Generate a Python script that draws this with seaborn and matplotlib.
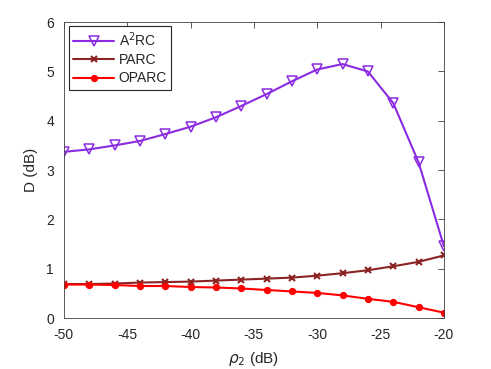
import numpy as np
import pandas as pd
import matplotlib
matplotlib.use("Agg")
import matplotlib.pyplot as plt
import seaborn as sns

rho2 = [-50, -48, -46, -44, -42, -40, -38, -36, -34, -32, -30, -28, -26, -24, -22, -20]
a2rc = [3.37, 3.42, 3.50, 3.59, 3.73, 3.88, 4.07, 4.30, 4.54, 4.80, 5.04, 5.15, 5.00, 4.36, 3.16, 1.46]
parc = [0.69, 0.69, 0.70, 0.72, 0.73, 0.74, 0.76, 0.78, 0.80, 0.82, 0.86, 0.91, 0.97, 1.05, 1.14, 1.27]
oparc = [0.68, 0.68, 0.67, 0.65, 0.65, 0.63, 0.62, 0.60, 0.57, 0.54, 0.51, 0.46, 0.39, 0.33, 0.22, 0.11]
series_names = ["A$^2$RC", "PARC", "OPARC"]

df = pd.DataFrame({
    "rho2": rho2 * 3,
    "D": a2rc + parc + oparc,
    "method": [series_names[0]] * len(rho2) + [series_names[1]] * len(rho2) + [series_names[2]] * len(rho2),
})

sns.set_style("white")
plt.rcParams['font.family'] = ['Liberation Sans', 'DejaVu Sans']
plt.rcParams['mathtext.fontset'] = 'dejavusans'
plt.rcParams['axes.unicode_minus'] = False

fig = plt.figure(figsize=(4.91, 3.69), dpi=100)
ax = fig.add_axes([0.130, 0.138, 0.774, 0.802])

palette = {series_names[0]: "#8A2BE2", series_names[1]: "#8B2323", series_names[2]: "#FF0000"}
markers = {series_names[0]: "v", series_names[1]: "X", series_names[2]: "o"}

sns.lineplot(data=df, x="rho2", y="D", hue="method", style="method",
             palette=palette, markers=markers, dashes=False, ax=ax,
             linewidth=1.5, markersize=6, legend=False)

lines = ax.get_lines()
for ln, name in zip(lines, series_names):
    if name == series_names[0]:
        ln.set_markerfacecolor("none")
        ln.set_markeredgecolor(palette[name])
        ln.set_markeredgewidth(1.1)
        ln.set_markersize(7)
    elif name == series_names[1]:
        ln.set_marker("x")
        ln.set_markersize(4.5)
        ln.set_markeredgewidth(1.5)
        ln.set_markeredgecolor(palette[name])
    else:
        ln.set_markersize(4.5)
        ln.set_markeredgecolor(palette[name])
        ln.set_markerfacecolor(palette[name])
    ln.set_label(name)

ax.set_xlim(-50, -20)
ax.set_ylim(0, 6)
ax.set_xticks(np.arange(-50, -19, 5))
ax.set_yticks(np.arange(0, 7, 1))
ax.set_xlabel(r"$\rho_2$ (dB)", fontsize=11, labelpad=6)
ax.set_ylabel("D (dB)", fontsize=11, labelpad=6)
ax.tick_params(direction="in", top=True, right=True, length=4, labelsize=10,
               color="#404040", width=0.6, pad=7)
for sp in ax.spines.values():
    sp.set_color("#404040")
    sp.set_linewidth(0.6)

leg = ax.legend(handles=lines, labels=series_names, loc="upper left",
                bbox_to_anchor=(0.005, 0.995), fancybox=False, framealpha=1,
                edgecolor="#262626", fontsize=10, borderpad=0.3, labelspacing=0.3,
                handlelength=3.0, handletextpad=0.3, borderaxespad=0.2)
leg.get_frame().set_linewidth(0.8)

fig.savefig("out.png", dpi=100, facecolor="white")
